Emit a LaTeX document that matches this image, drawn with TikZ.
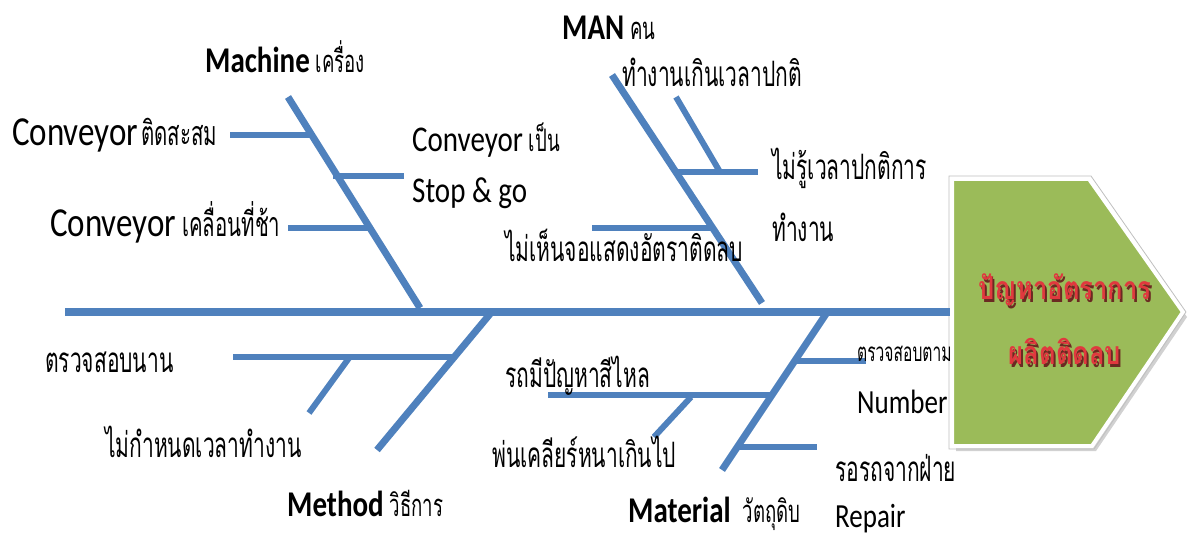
\documentclass[tikz,border=0pt]{standalone}
\usepackage{fontspec}
\setmainfont{Carlito}
\newfontfamily\thai[Script=Thai,FakeStretch=0.6]{Loma}
\newfontfamily\thaihead[Script=Thai,FakeStretch=0.8]{Loma}
\definecolor{bone}{HTML}{4F81BD}
\definecolor{headgreen}{HTML}{9BBB59}
\definecolor{headred}{HTML}{E0393E}
\definecolor{headshadow}{HTML}{6B2A22}
\tikzset{
  spine/.style={draw=bone,line width=8pt},
  bonel/.style={draw=bone,line width=7pt},
  subl/.style={draw=bone,line width=6pt},
  lbl/.style={inner sep=0pt,anchor=west,text=black},
}
\newcommand{\thx}[2]{{\thai\fontsize{#1}{#1}\selectfont #2}}
\newcommand{\lat}[2]{\scalebox{1}[1.25]{\fontsize{#1}{#1}\selectfont #2}}
\newcommand{\gap}{\hspace{6pt}}
\newcommand{\shtext}[1]{\makebox[0pt][l]{\hspace{2pt}\raisebox{-3pt}{\color{headshadow}#1}}{\color{headred}#1}}
\begin{document}
\begin{tikzpicture}[x=1pt,y=-1pt]
\useasboundingbox (0,0) rectangle (1194,537);
% head coordinates
\coordinate (h1) at (952,179);
\coordinate (h2) at (1089,179);
\coordinate (h3) at (1183,312);
\coordinate (h4) at (1092,446);
\coordinate (h5) at (952,446);
% shadow
\fill[black!30,opacity=0.6] ([shift={(4,5)}]h1) -- ([shift={(4,5)}]h2) -- ([shift={(4,5)}]h3) -- ([shift={(4,5)}]h4) -- ([shift={(4,5)}]h5) -- cycle;
\filldraw[fill=headgreen,draw=white,line width=4pt,line join=miter] (h1) -- (h2) -- (h3) -- (h4) -- (h5) -- cycle;
\draw[black!25,line width=0.8pt] ([shift={(-3,-3)}]h1) -- ([shift={(2,-3)}]h2) -- ([shift={(3,0)}]h3) -- ([shift={(2,3)}]h4) -- ([shift={(-3,3)}]h5) -- cycle;
% spine
\coordinate (s0) at (65,312);
\coordinate (s1) at (950,312);
\draw[spine] (s0) -- (s1);
% Machine bone
\coordinate (ma) at (288,97);
\coordinate (mb) at (420,308);
\draw[bonel] (ma) -- (mb);
\coordinate (m1a) at (230,135); \coordinate (m1b) at (310,135);
\draw[subl] (m1a) -- (m1b);
\coordinate (m2a) at (333,176); \coordinate (m2b) at (404,176);
\draw[subl] (m2a) -- (m2b);
\coordinate (m3a) at (288,228); \coordinate (m3b) at (370,228);
\draw[subl] (m3a) -- (m3b);
% MAN bone
\coordinate (na) at (612,75);
\coordinate (nb) at (762,303);
\draw[bonel] (na) -- (nb);
\coordinate (n1a) at (676,97); \coordinate (n1b) at (720,172);
\draw[subl] (n1a) -- (n1b);
\coordinate (n2a) at (674,172); \coordinate (n2b) at (758,172);
\draw[subl] (n2a) -- (n2b);
\coordinate (n3a) at (592,228); \coordinate (n3b) at (714,228);
\draw[subl] (n3a) -- (n3b);
% Method bone
\coordinate (ta) at (490,314);
\coordinate (tb) at (377,450);
\draw[bonel] (ta) -- (tb);
\coordinate (t1a) at (233,357); \coordinate (t1b) at (456,357);
\draw[subl] (t1a) -- (t1b);
\coordinate (t2a) at (349,358); \coordinate (t2b) at (309,413);
\draw[subl] (t2a) -- (t2b);
% Material bone
\coordinate (ra) at (826,314);
\coordinate (rb) at (722,470);
\draw[bonel] (ra) -- (rb);
\coordinate (r1a) at (797,361); \coordinate (r1b) at (866,361);
\draw[subl] (r1a) -- (r1b);
\coordinate (r2a) at (548,395); \coordinate (r2b) at (773,395);
\draw[subl] (r2a) -- (r2b);
\coordinate (r3a) at (691,397); \coordinate (r3b) at (654,437);
\draw[subl] (r3a) -- (r3b);
\coordinate (r4a) at (738,447); \coordinate (r4b) at (817,447);
\draw[subl] (r4a) -- (r4b);
% head text
\node[inner sep=0pt] (ht1) at (1065,291) {\thaihead\bfseries\fontsize{32}{32}\selectfont\shtext{ปัญหาอัตราการ}};
\node[inner sep=0pt] (ht2) at (1065,353) {\thaihead\bfseries\fontsize{32}{32}\selectfont\shtext{ผลิตติดลบ}};
% labels
\node[lbl] (lmach) at (205,57) {\lat{29}{\bfseries Machine}\gap\thx{31}{เครื่อง}};
\node[lbl] (lman) at (562,28) {\lat{29}{\bfseries MAN}\gap\thx{31}{คน}};
\node[lbl] (lmeth) at (287,503) {\lat{29}{\bfseries Method}\gap\thx{31}{วิธีการ}};
\node[lbl] (lmat) at (628,514) {\lat{29}{\bfseries Material}\hspace{12pt}\thx{31}{วัตถุดิบ}};
\node[lbl] (l1) at (12,135) {\lat{33}{Conveyor}\hspace{3pt}\thx{34}{ติดสะสม}};
\node[lbl] (l2) at (50,222) {\lat{33}{Conveyor}\gap\thx{34}{เคลื่อนที่ช้า}};
\node[lbl] (l3) at (412,140) {\lat{29}{Conveyor}\gap\thx{31}{เป็น}};
\node[lbl] (l4) at (412,193) {\lat{29}{Stop \& go}};
\node[lbl] (l5) at (622,72) {\thx{35}{ทำงานเกินเวลาปกติ}};
\node[lbl] (l6) at (772,168) {\thx{35}{ไม่รู้เวลาปกติการ}};
\node[lbl] (l7) at (772,227) {\thx{35}{ทำงาน}};
\node[lbl] (l8) at (505,245) {\thx{35}{ไม่เห็นจอแสดงอัตราติดลบ}};
\node[lbl] (l9) at (45,362) {\thx{35}{ตรวจสอบนาน}};
\node[lbl] (l10) at (105,442) {\thx{35}{ไม่กำหนดเวลาทำงาน}};
\node[lbl] (l11) at (505,376) {\thx{35}{รถมีปัญหาสีไหล}};
\node[lbl] (l12) at (492,452) {\thx{35}{พ่นเคลียร์หนาเกินไป}};
\node[lbl] (l13) at (857,354) {\thx{26}{ตรวจสอบตาม}};
\node[lbl] (l14) at (857,402) {\lat{27}{Number}};
\node[lbl] (l15) at (835,468) {\thx{35}{รอรถจากฝ่าย}};
\node[lbl] (l16) at (835,519) {\lat{27}{Repair}};
\end{tikzpicture}
\end{document}
